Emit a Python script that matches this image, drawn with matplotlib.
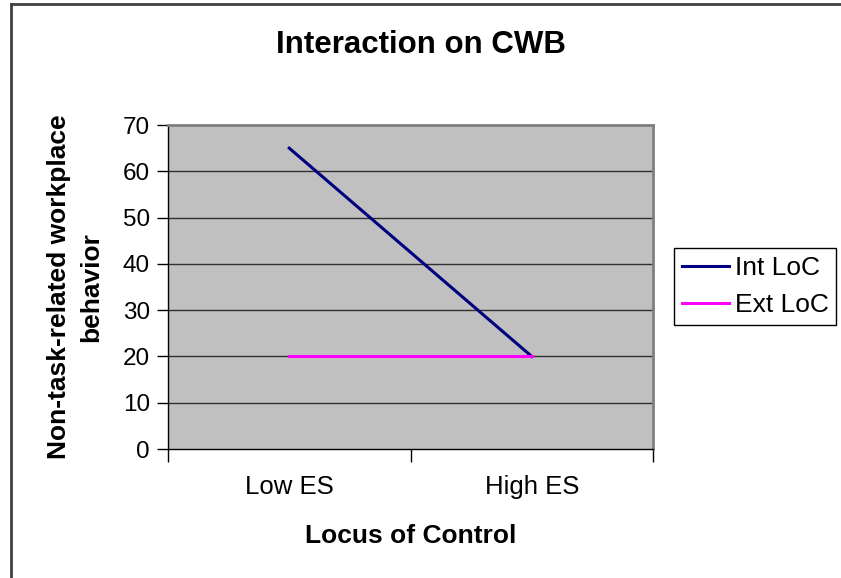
import matplotlib.pyplot as plt
from matplotlib.lines import Line2D

plt.rcParams['font.family'] = ['Liberation Sans', 'DejaVu Sans']

# Interaction plot values
categories = ['Low ES', 'High ES']
int_loc = [65, 20]
ext_loc = [20, 20]
y_ticks = [0, 10, 20, 30, 40, 50, 60, 70]

fig = plt.figure(figsize=(8.41, 5.78), dpi=100)
ax = fig.add_axes([168/841, 1 - 449/578, (653 - 168)/841, (449 - 125)/578])

x = list(range(len(categories)))
ax.set_facecolor('#C0C0C0')
for v in y_ticks[1:-1]:
    ax.axhline(v, color='#303030', linewidth=1.0, zorder=1)
ax.plot(x, int_loc, color='#000080', linewidth=2.2, label='Int LoC', zorder=3)
ax.plot(x, ext_loc, color='#FF00FF', linewidth=2.2, label='Ext LoC', zorder=3)

ax.set_xlim(-0.5, len(categories) - 0.5)
ax.set_ylim(0, 70)
ax.set_yticks(y_ticks)
ax.set_xticks([i - 0.5 for i in range(len(categories) + 1)])
ax.set_xticklabels([])
ax.set_xticks(x, minor=True)
ax.set_xticklabels(categories, minor=True, fontsize=18.5)
ax.tick_params(axis='x', which='minor', length=0, pad=19)
ax.tick_params(axis='x', which='major', length=9, width=1, color='black', direction='out')
ax.tick_params(axis='y', length=8, width=1, labelsize=17.5, pad=5, direction='out')

for side in ['top', 'right']:
    ax.spines[side].set_color('#808080')
    ax.spines[side].set_linewidth(2)
for side in ['left', 'bottom']:
    ax.spines[side].set_color('black')
    ax.spines[side].set_linewidth(1)

ax.set_xlabel('Locus of Control', fontsize=19, fontweight='bold', labelpad=18)
ax.set_ylabel('Non-task-related workplace\nbehavior', fontsize=19, fontweight='bold', labelpad=14,
              linespacing=1.45)

fig.text(0.5, 1 - 45/578, 'Interaction on CWB', ha='center', va='center',
         fontsize=22.5, fontweight='bold')

leg = ax.legend(loc='upper left', bbox_to_anchor=(674/841, 1 - 248/578),
                bbox_transform=fig.transFigure, borderaxespad=0, fontsize=19,
                frameon=True, fancybox=False, edgecolor='black', framealpha=1,
                handlelength=1.8, handletextpad=0.2, labelspacing=0.5,
                borderpad=0.3)
leg.get_frame().set_linewidth(1)

# outer chart border (top and left edges visible)
fig.add_artist(Line2D([11/841, 1], [1 - 4/578, 1 - 4/578], color='#404040', linewidth=2,
                      transform=fig.transFigure))
fig.add_artist(Line2D([11/841, 11/841], [0, 1 - 4/578], color='#404040', linewidth=2,
                      transform=fig.transFigure))

fig.savefig('out.png', dpi=100)
